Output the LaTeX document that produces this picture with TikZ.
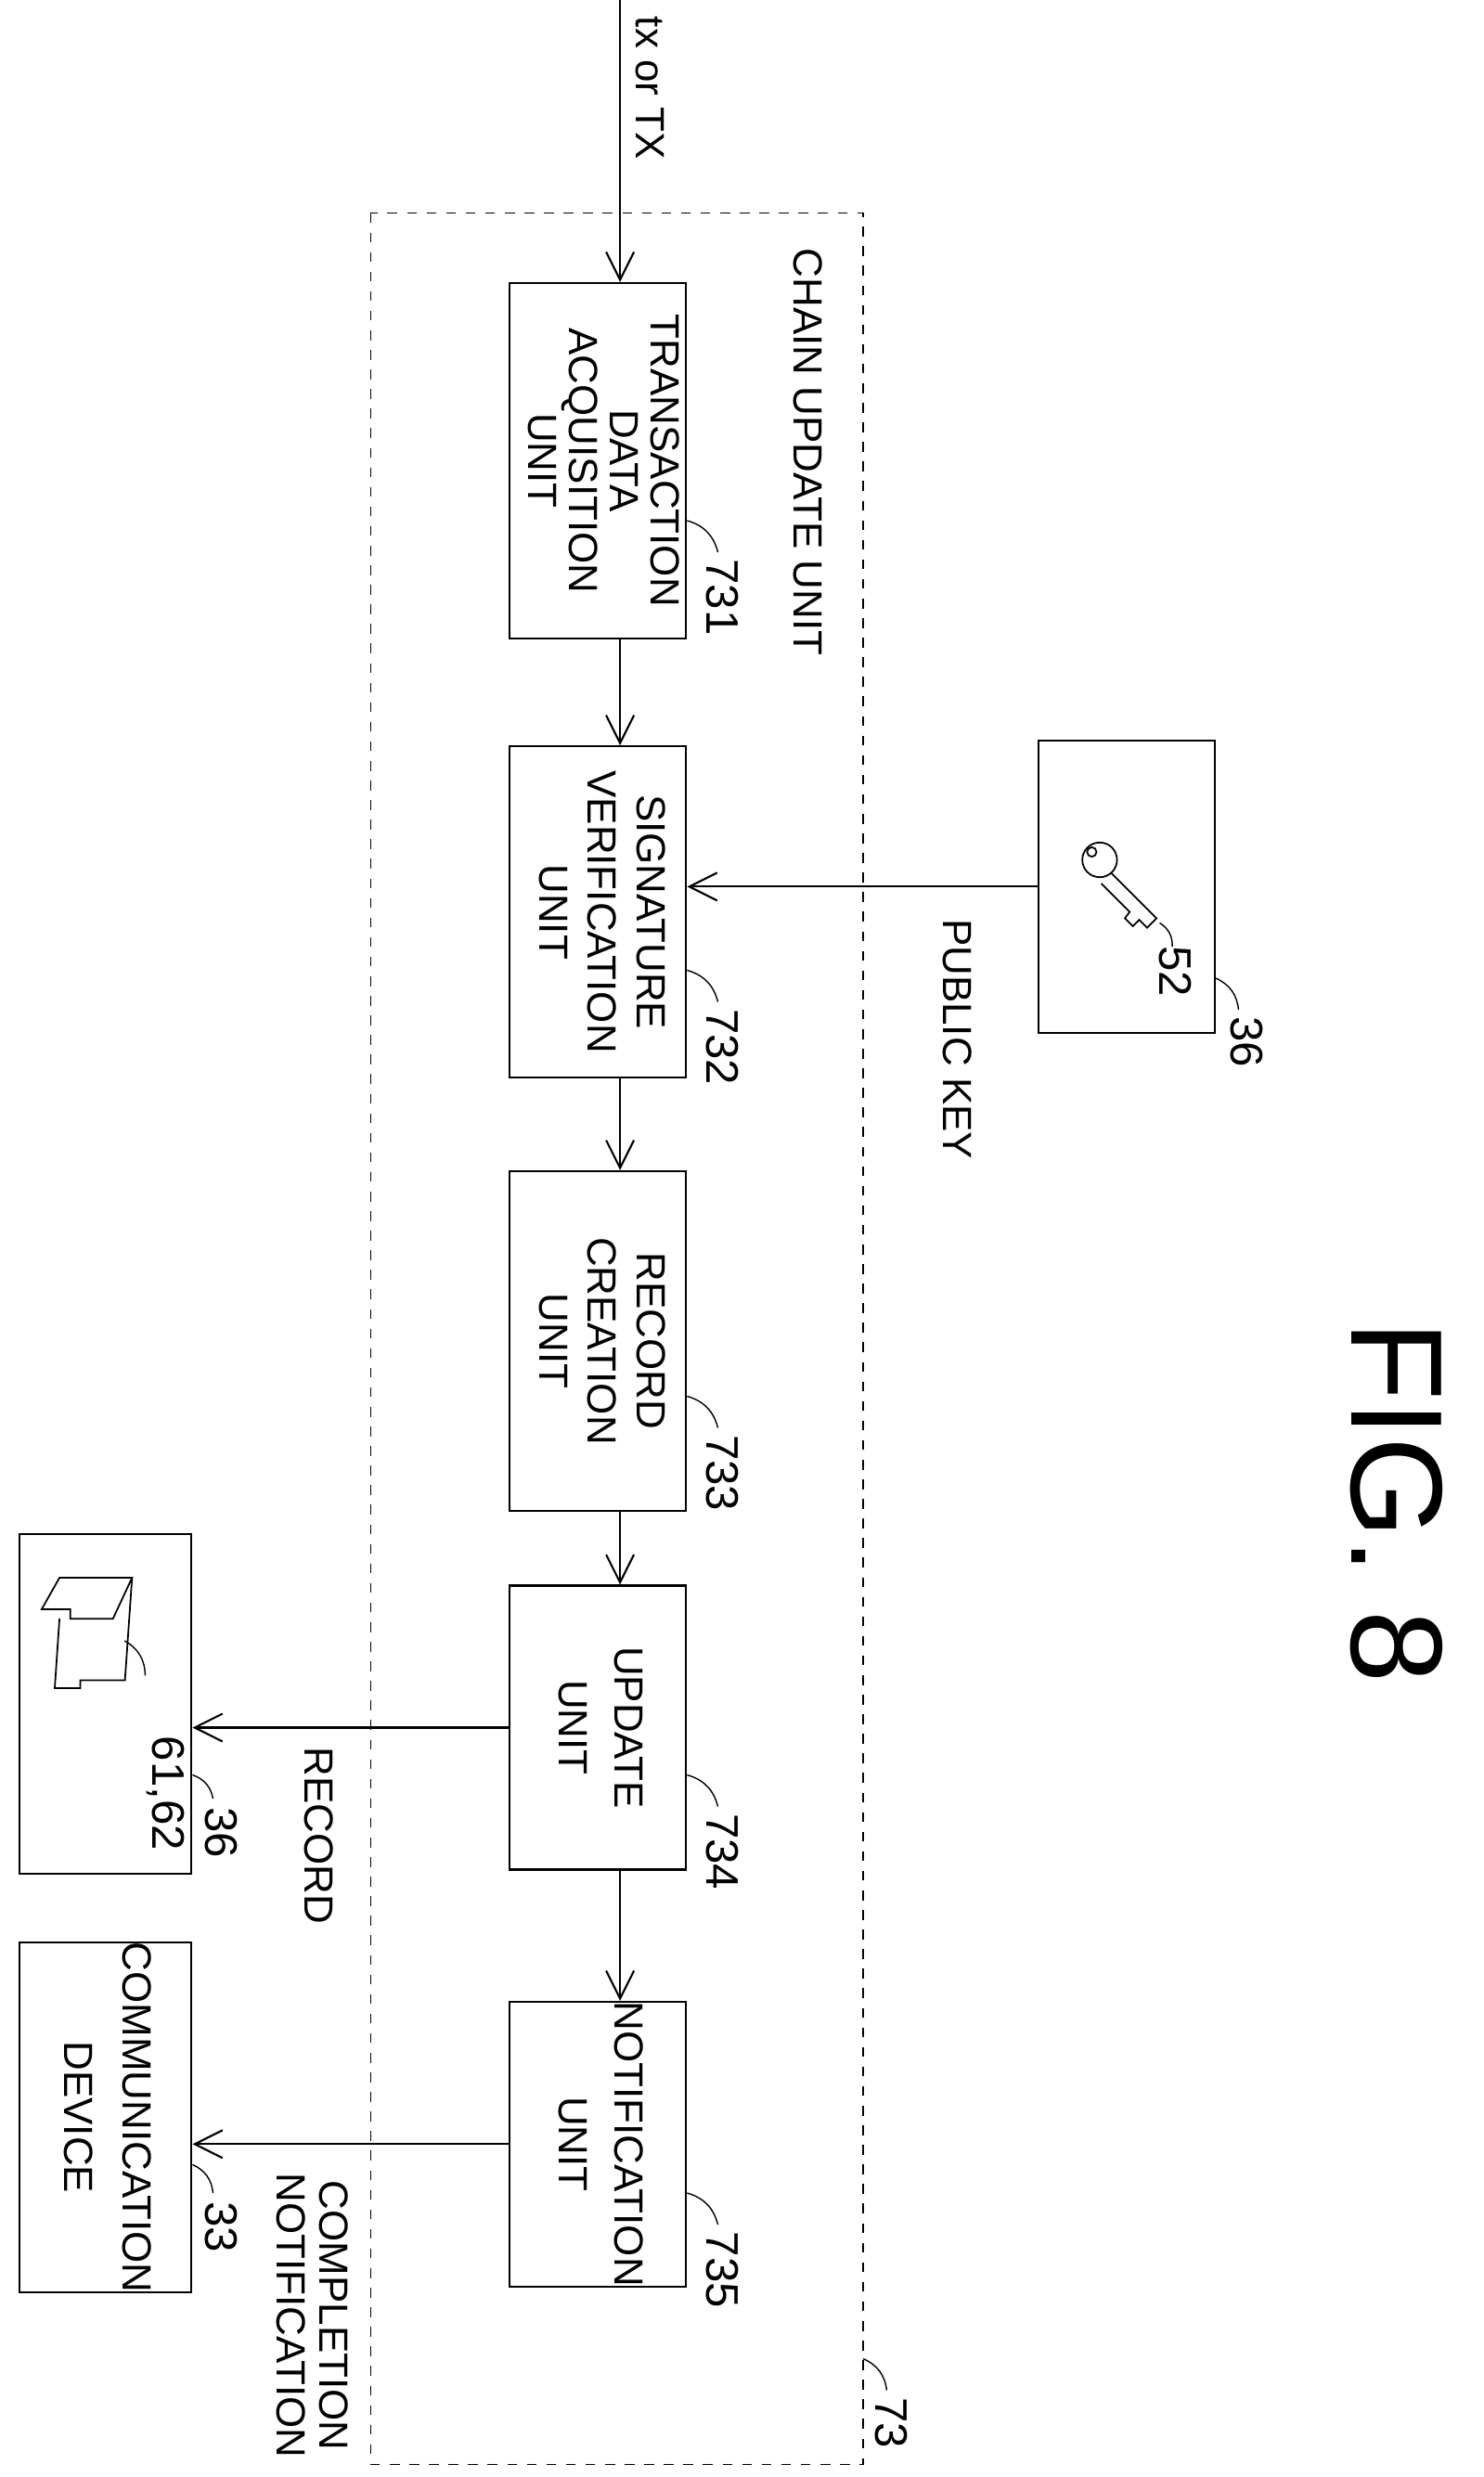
\documentclass[tikz,border=0pt]{standalone}
\usepackage{fontspec}
\setmainfont{Liberation Sans}
\usetikzlibrary{arrows.meta,positioning}
\tikzset{
  unit/.style={draw, line width=0.6pt, inner sep=0pt},
  flow/.style={line width=0.6pt, -{Straight Barb[length=3mm,width=3mm]}},
  tick/.style={line width=0.4pt},
  lbl/.style={rotate=-90, font=\fontsize{12.5}{13}\selectfont, align=center, inner sep=1pt},
  num/.style={rotate=-90, font=\fontsize{14}{14}\selectfont, inner sep=1pt}
}
\newcommand{\vtext}[2][12.5]{\rotatebox{-90}{\fontsize{12.5}{#1}\selectfont\begin{tabular}{@{}c@{}}#2\end{tabular}}}
\begin{document}
\begin{tikzpicture}[x=0.017cm, y=-0.017cm]
  \useasboundingbox (0,0) rectangle (940,1570);

  % chain update unit
  \draw[dashed, line width=0.4pt] (235,135) rectangle (547,1562);
  \node[lbl, anchor=west] (chain) at (512,155) {CHAIN UPDATE UNIT};
  \draw[tick] (547,1495) to[bend left=30] (562,1515);
  \node[num, anchor=west] (n73) at (565,1517) {73};

  % units
  \node[unit, minimum width=1.9cm, minimum height=3.83cm] (731) at (379,292) {\vtext{TRANSACTION\\DATA\\ACQUISITION\\UNIT}};
  \node[unit, minimum width=1.9cm, minimum height=3.57cm] (732) at (379,578) {\vtext[15]{SIGNATURE\\VERIFICATION\\UNIT}};
  \node[unit, minimum width=1.9cm, minimum height=3.66cm] (733) at (379,850) {\vtext[15]{RECORD\\CREATION\\UNIT}};
  \node[unit, minimum width=1.9cm, minimum height=3.06cm] (734) at (379,1095) {\vtext[17]{UPDATE\\UNIT}};
  \node[unit, minimum width=1.9cm, minimum height=2.98cm] (735) at (379,1359) {\vtext[17]{NOTIFICATION\\UNIT}};

  % outside
  \node[unit, minimum width=1.9cm, minimum height=3.15cm] (keybox) at (714,562) {};
  \node[unit, minimum width=1.85cm, minimum height=3.66cm] (recbox) at (67,1080) {};
  \node[unit, minimum width=1.85cm, minimum height=3.55cm] (comm) at (67,1342) {\vtext[18]{COMMUNICATION\\DEVICE}};

  % key 52
  \draw[line width=0.5pt] (697,545) circle (11);
  \draw[line width=0.5pt] (692,540) circle (3);
  \draw[line width=0.5pt] (704,553) -- (733,582) -- (727,588) -- (722,583) -- (718,587) -- (713,582) -- (716,578) -- (698,560);
  \draw[tick] (735,585) to[bend left=30] (743,600);
  \node[num, anchor=west] (n52) at (745,597) {52};

  % record sheet 61,62
  \draw[line width=0.5pt] (37.7,1000) -- (83.7,1000) -- (71.6,1026) -- (44.5,1026) -- (44.5,1020) -- (26.4,1020) -- cycle;
  \draw[line width=0.5pt] (37.7,1026) -- (34.7,1070) -- (50.9,1070) -- (50.9,1065) -- (79.2,1065) -- (83.7,1000);
  \draw[tick] (79,1040) to[bend left=30] (92,1062);
  \node[num, anchor=west] (n6162) at (105,1098) {61,62};

  % reference numerals
  \draw[tick] (731.east |- 0,330) to[bend left=30] (455,350);
  \node[num, anchor=west] (n731) at (458,352) {731};
  \draw[tick] (732.east |- 0,615) to[bend left=30] (455,635);
  \node[num, anchor=west] (n732) at (458,637) {732};
  \draw[tick] (733.east |- 0,885) to[bend left=30] (455,905);
  \node[num, anchor=west] (n733) at (458,907) {733};
  \draw[tick] (734.east |- 0,1125) to[bend left=30] (455,1145);
  \node[num, anchor=west] (n734) at (458,1147) {734};
  \draw[tick] (735.east |- 0,1390) to[bend left=30] (455,1410);
  \node[num, anchor=west] (n735) at (458,1412) {735};
  \draw[tick] (keybox.east |- 0,620) to[bend left=30] (785,640);
  \node[num, anchor=west] (n36a) at (790,642) {36};
  \draw[tick] (recbox.east |- 0,1125) to[bend left=30] (135,1140);
  \node[num, anchor=west] (n36b) at (140,1143) {36};
  \draw[tick] (comm.east |- 0,1372) to[bend left=30] (135,1390);
  \node[num, anchor=west] (n33) at (140,1393) {33};

  % flows
  \coordinate (txin) at (393,0);
  \draw[flow] (txin) -- (731.north -| txin);
  \node[lbl, anchor=west] (txlbl) at (412,8) {tx or TX};
  \draw[flow] (731.south -| txin) -- (732.north -| txin);
  \draw[flow] (732.south -| txin) -- (733.north -| txin);
  \draw[flow] (733.south -| txin) -- (734.north -| txin);
  \draw[flow] (734.south -| txin) -- (735.north -| txin);
  \draw[flow] (keybox.west) -- (keybox.west -| 732.east);
  \node[lbl, anchor=west] (pubkey) at (607,580) {PUBLIC KEY};
  \draw[flow] (734.west) -- (734.west -| recbox.east);
  \node[lbl, anchor=west] (reclbl) at (202,1105) {RECORD};
  \draw[flow] (735.west) -- (735.west -| comm.east);
  \node[lbl, anchor=west, align=center] (cnlbl) at (198,1375) {COMPLETION\\NOTIFICATION};

  \node[rotate=-90, font=\fontsize{40}{40}\selectfont, anchor=west] (fig) at (885,830) {FIG. 8};
\end{tikzpicture}
\end{document}
